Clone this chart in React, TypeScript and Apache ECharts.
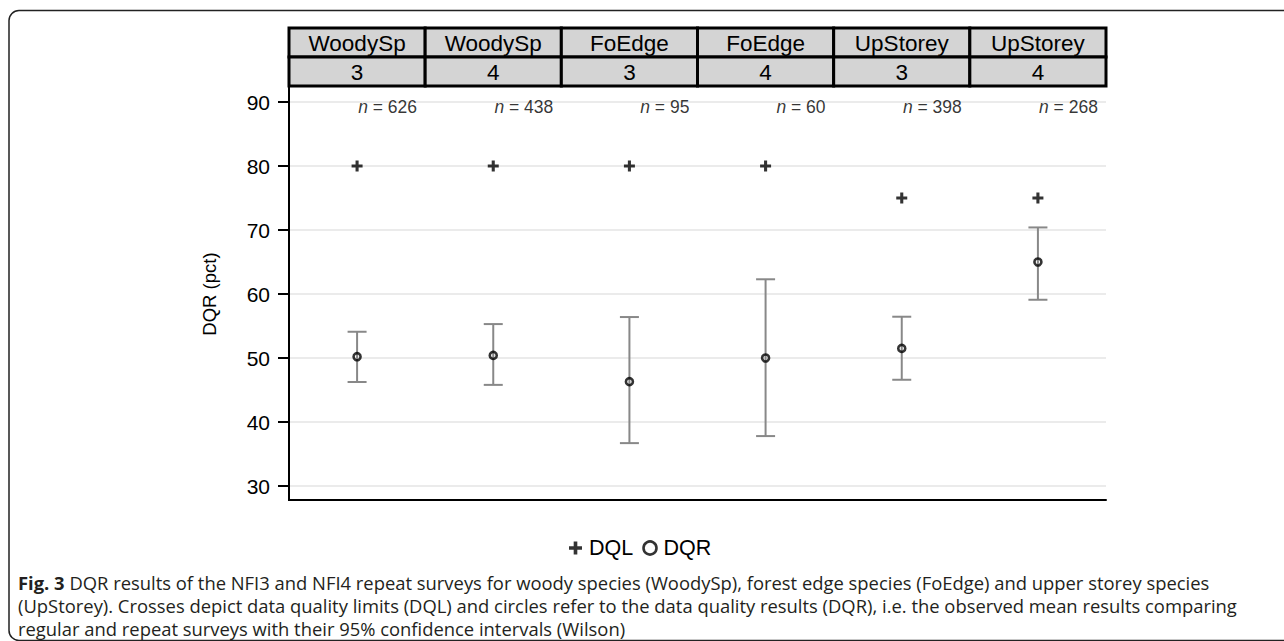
import React, { useEffect, useRef } from "react";
import * as echarts from "echarts";

const groups = ["WoodySp", "WoodySp", "FoEdge", "FoEdge", "UpStorey", "UpStorey"];
const surveys = ["3", "4", "3", "4", "3", "4"];
const nObs = [626, 438, 95, 60, 398, 268];
const dql = [80, 80, 80, 80, 75, 75];
const dqr = [50.2, 50.4, 46.3, 50.0, 51.5, 65.0];
const ciLow = [46.25, 45.8, 36.7, 37.8, 46.6, 59.1];
const ciHigh = [54.1, 55.3, 56.4, 62.3, 56.45, 70.4];

const captionLines = [
  "DQR results of the NFI3 and NFI4 repeat surveys for woody species (WoodySp), forest edge species (FoEdge) and upper storey species",
  "(UpStorey). Crosses depict data quality limits (DQL) and circles refer to the data quality results (DQR), i.e. the observed mean results comparing",
  "regular and repeat surveys with their 95% confidence intervals (Wilson)",
];

const FONT = "'Liberation Sans', Arial, sans-serif";
const CAP_FONT = "'Open Sans', 'Noto Sans', sans-serif";
const PLUS = "path://M3.6,0H6.4V3.6H10V6.4H6.4V10H3.6V6.4H0V3.6H3.6Z";

export default function App() {
  const ref = useRef<HTMLDivElement>(null);
  useEffect(() => {
    if (!ref.current) return;
    const chart = echarts.init(ref.current, null, { renderer: "svg" });
    const cats = groups.map((g, i) => g + " " + surveys[i]);
    const option: any = {
      animation: false,
      backgroundColor: "#fff",
      grid: { left: 289, width: 817, top: 102, height: 384 },
      xAxis: {
        type: "category",
        data: cats,
        boundaryGap: true,
        offset: 14,
        axisLine: { show: true, lineStyle: { color: "#000", width: 2 } },
        axisTick: { show: false },
        axisLabel: { show: false },
        splitLine: { show: false },
      },
      yAxis: {
        type: "value",
        min: 30,
        max: 90,
        interval: 10,
        name: "DQR (pct)",
        nameLocation: "middle",
        nameGap: 70,
        nameTextStyle: { fontFamily: FONT, fontSize: 18.5, color: "#000" },
        axisLine: { show: false },
        axisTick: { show: true, inside: false, length: 11, lineStyle: { color: "#000", width: 2 } },
        axisLabel: { fontFamily: FONT, fontSize: 21, color: "#000", margin: 19 },
        splitLine: { show: true, lineStyle: { color: "#ebebeb", width: 2 } },
      },
      legend: {
        left: 564,
        top: 532,
        itemGap: 9,
        itemWidth: 13,
        itemHeight: 13,
        textStyle: { fontFamily: FONT, fontSize: 21.5, color: "#000", padding: [0, 0, 0, 2] },
        data: [
          { name: "DQL", icon: PLUS, itemStyle: { color: "#000" } },
          {
            name: "DQR",
            icon: "circle",
            itemStyle: { color: "rgba(0,0,0,0)", borderColor: "#000", borderWidth: 2.6 },
          },
        ],
      },
      series: [
        {
          name: "CI",
          type: "custom",
          data: ciLow.map((l, i) => [i, l, ciHigh[i]]),
          encode: { x: 0, y: [1, 2] },
          z: 2,
          renderItem: (params: any, api: any) => {
            const i = api.value(0);
            const lo = api.coord([i, api.value(1)]);
            const hi = api.coord([i, api.value(2)]);
            const cap = 9.5;
            const st = { stroke: "#888", lineWidth: 2 };
            return {
              type: "group",
              children: [
                { type: "line", shape: { x1: lo[0], y1: lo[1], x2: hi[0], y2: hi[1] }, style: st },
                { type: "line", shape: { x1: lo[0] - cap, y1: lo[1], x2: lo[0] + cap, y2: lo[1] }, style: st },
                { type: "line", shape: { x1: hi[0] - cap, y1: hi[1], x2: hi[0] + cap, y2: hi[1] }, style: st },
              ],
            };
          },
        },
        {
          name: "DQL",
          type: "scatter",
          data: dql.map((v, i) => [i, v]),
          symbol: PLUS,
          symbolSize: 11,
          itemStyle: { color: "#000" },
          z: 3,
        },
        {
          name: "DQR",
          type: "scatter",
          data: dqr.map((v, i) => [i, v]),
          symbol: "circle",
          symbolSize: 7,
          itemStyle: { color: "rgba(0,0,0,0)", borderColor: "#000", borderWidth: 2.6 },
          z: 4,
        },
        {
          name: "n",
          type: "scatter",
          data: nObs.map((n, i) => ({ value: [i, 90], n })),
          symbolSize: 0,
          silent: true,
          label: {
            show: true,
            position: "inside",
            align: "right",
            offset: [60, 5],
            fontFamily: FONT,
            fontSize: 17.5,
            color: "#000",
            formatter: (p: any) => "{i|n} = " + p.data.n,
            rich: { i: { fontStyle: "italic", fontFamily: FONT, fontSize: 17.5, color: "#000" } },
          },
        },
      ],
    };
    chart.setOption(option);

    const c0 = chart.convertToPixel({ xAxisIndex: 0 }, 0) as number;
    const c1 = chart.convertToPixel({ xAxisIndex: 0 }, 1) as number;
    const band = c1 - c0;
    const gridLeft = c0 - band / 2;
    const bottomY = (chart.convertToPixel({ yAxisIndex: 0 }, 30) as number) + 14;
    const headTop = 28;
    const rowH = 29;
    const headBottom = headTop + 2 * rowH;
    const graphics: any[] = [];
    graphics.push({
      type: "rect",
      shape: { x: 9, y: 10.5, width: 1300, height: 630, r: 10 },
      style: { fill: "none", stroke: "#222", lineWidth: 1.5 },
      z: 1,
    });
    groups.forEach((g, i) => {
      const cx = chart.convertToPixel({ xAxisIndex: 0 }, i) as number;
      const x = cx - band / 2;
      [g, surveys[i]].forEach((t, r) => {
        const y = headTop + r * rowH;
        graphics.push({
          type: "rect",
          shape: { x, y, width: band, height: rowH },
          style: { fill: "#d4d4d4", stroke: "#000", lineWidth: 3 },
          z: 5,
        });
        graphics.push({
          type: "text",
          x: cx,
          y: y + rowH / 2 + 1,
          style: {
            text: t,
            fontFamily: FONT,
            fontSize: 22.5,
            fill: "#000",
            align: "center",
            verticalAlign: "middle",
          },
          z: 6,
        });
      });
    });
    graphics.push({
      type: "line",
      shape: { x1: gridLeft, y1: headBottom, x2: gridLeft, y2: bottomY + 1 },
      style: { stroke: "#000", lineWidth: 2 },
      z: 5,
    });
    captionLines.forEach((line, k) => {
      graphics.push({
        type: "text",
        x: 18,
        y: 582 + k * 23,
        style: {
          text: k === 0 ? "{b|Fig. 3} " + line : line,
          fontFamily: CAP_FONT,
          fontSize: 18.4,
          lineHeight: 21,
          fill: "#231f20",
          verticalAlign: "middle",
          rich: {
            b: { fontFamily: CAP_FONT, fontSize: 18.4, lineHeight: 21, fontWeight: "bold", fill: "#231f20" },
          },
        },
        z: 5,
      });
    });
    chart.setOption({ graphic: graphics });
    return () => chart.dispose();
  }, []);
  return (
    <div
      ref={ref}
      style={{ position: "fixed", left: 0, top: 0, width: 1284, height: 641, background: "#fff" }}
    />
  );
}
